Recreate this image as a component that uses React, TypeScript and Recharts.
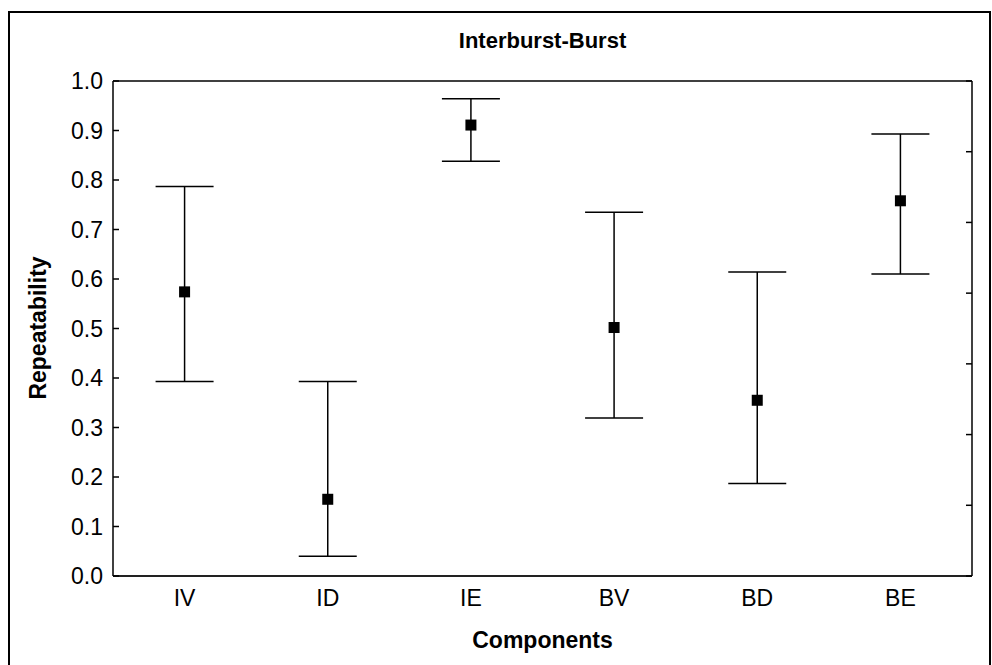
import React from 'react';
import { ComposedChart, Scatter, ErrorBar, XAxis, YAxis } from 'recharts';

// repeatability per component with its confidence interval
const components = ['IV', 'ID', 'IE', 'BV', 'BD', 'BE'];
const repeatability = [0.574, 0.155, 0.911, 0.502, 0.355, 0.758];
const lowerCI = [0.393, 0.04, 0.838, 0.319, 0.187, 0.61];
const upperCI = [0.787, 0.393, 0.964, 0.735, 0.614, 0.893];
const yTicks = [0, 0.1, 0.2, 0.3, 0.4, 0.5, 0.6, 0.7, 0.8, 0.9, 1.0];
const rightTicks = [0, 1, 2, 3, 4, 5, 6, 7];

const data = components.map((name, i) => ({
    name,
    r: repeatability[i],
    ci: [repeatability[i] - lowerCI[i], upperCI[i] - repeatability[i]],
}));

const FONT = '"Liberation Sans", Arial, Helvetica, sans-serif';
const TICK_SIZE = 6;
const TICK_MARGIN = 4;

const SquareDot = (props: any) => {
    const { cx, cy } = props;
    if (cx == null || cy == null) return <g />;
    return <rect x={cx - 5.5} y={cy - 5.5} width={11} height={11} fill="#000" />;
};

// label outside the axis plus a short tick mark pointing into the plot
const LeftTick = (props: any) => {
    const { x, y, payload } = props;
    const axisX = x + TICK_SIZE + TICK_MARGIN;
    return (
        <g>
            <line x1={axisX} x2={axisX + TICK_SIZE} y1={y} y2={y} stroke="#000" strokeWidth={1.5} />
            <text x={x} y={y} dy="0.355em" textAnchor="end" fontSize={23} fill="#000">
                {Number(payload.value).toFixed(1)}
            </text>
        </g>
    );
};

const NoLabel = () => <g />;

export default function App() {
    return (
        <div style={{ position: 'absolute', left: 0, top: 0, width: 992, height: 665, overflow: 'hidden', background: '#fff', fontFamily: FONT }}>
            <div style={{ position: 'absolute', left: 8, top: 11, width: 979, height: 700, border: '2px solid #000' }} />
            <ComposedChart
                width={992}
                height={665}
                data={data}
                margin={{ top: 81, right: 20, bottom: 59, left: 53 }}
                style={{ position: 'absolute', left: 0, top: 0, fontFamily: FONT }}
            >
                {/* frame line along the top of the plot */}
                <XAxis
                    xAxisId="top"
                    orientation="top"
                    dataKey="name"
                    scale="band"
                    mirror
                    height={1}
                    tick={NoLabel}
                    tickLine={false}
                    axisLine={{ stroke: '#000', strokeWidth: 1.5 }}
                />
                <XAxis
                    dataKey="name"
                    scale="band"
                    height={30}
                    tickLine={false}
                    tickMargin={8}
                    axisLine={{ stroke: '#222', strokeWidth: 2 }}
                    tick={{ fill: '#000', fontSize: 23 }}
                />
                <YAxis
                    yAxisId="v"
                    type="number"
                    domain={[0, 1]}
                    ticks={yTicks}
                    interval={0}
                    width={60}
                    tickLine={false}
                    tickSize={TICK_SIZE}
                    tickMargin={TICK_MARGIN}
                    axisLine={{ stroke: '#000', strokeWidth: 1.5 }}
                    tick={LeftTick}
                />
                {/* right edge with its own unlabelled scale */}
                <YAxis
                    yAxisId="r"
                    orientation="right"
                    type="number"
                    domain={[0, 7]}
                    allowDataOverflow
                    ticks={rightTicks}
                    interval={0}
                    width={1}
                    mirror
                    tickSize={6}
                    axisLine={{ stroke: '#000', strokeWidth: 1.5 }}
                    tickLine={{ stroke: '#000', strokeWidth: 1.5 }}
                    tick={NoLabel}
                />
                <Scatter yAxisId="v" dataKey="r" shape={SquareDot} isAnimationActive={false}>
                    <ErrorBar dataKey="ci" direction="y" width={29} stroke="#000" strokeWidth={1.5} isAnimationActive={false} />
                </Scatter>
            </ComposedChart>
            <div style={{ position: 'absolute', left: 113, width: 859, top: 29, textAlign: 'center', fontWeight: 'bold', fontSize: 22, lineHeight: '24px', color: '#000' }}>
                Interburst-Burst
            </div>
            <div style={{ position: 'absolute', left: 113, width: 859, top: 627, textAlign: 'center', fontWeight: 'bold', fontSize: 23, lineHeight: '26px', color: '#000' }}>
                Components
            </div>
            <div
                style={{
                    position: 'absolute',
                    left: 38,
                    top: 328,
                    transform: 'translate(-50%, -50%) rotate(-90deg)',
                    whiteSpace: 'nowrap',
                    fontWeight: 'bold',
                    fontSize: 23,
                    lineHeight: '26px',
                    color: '#000',
                }}
            >
                Repeatability
            </div>
        </div>
    );
}
